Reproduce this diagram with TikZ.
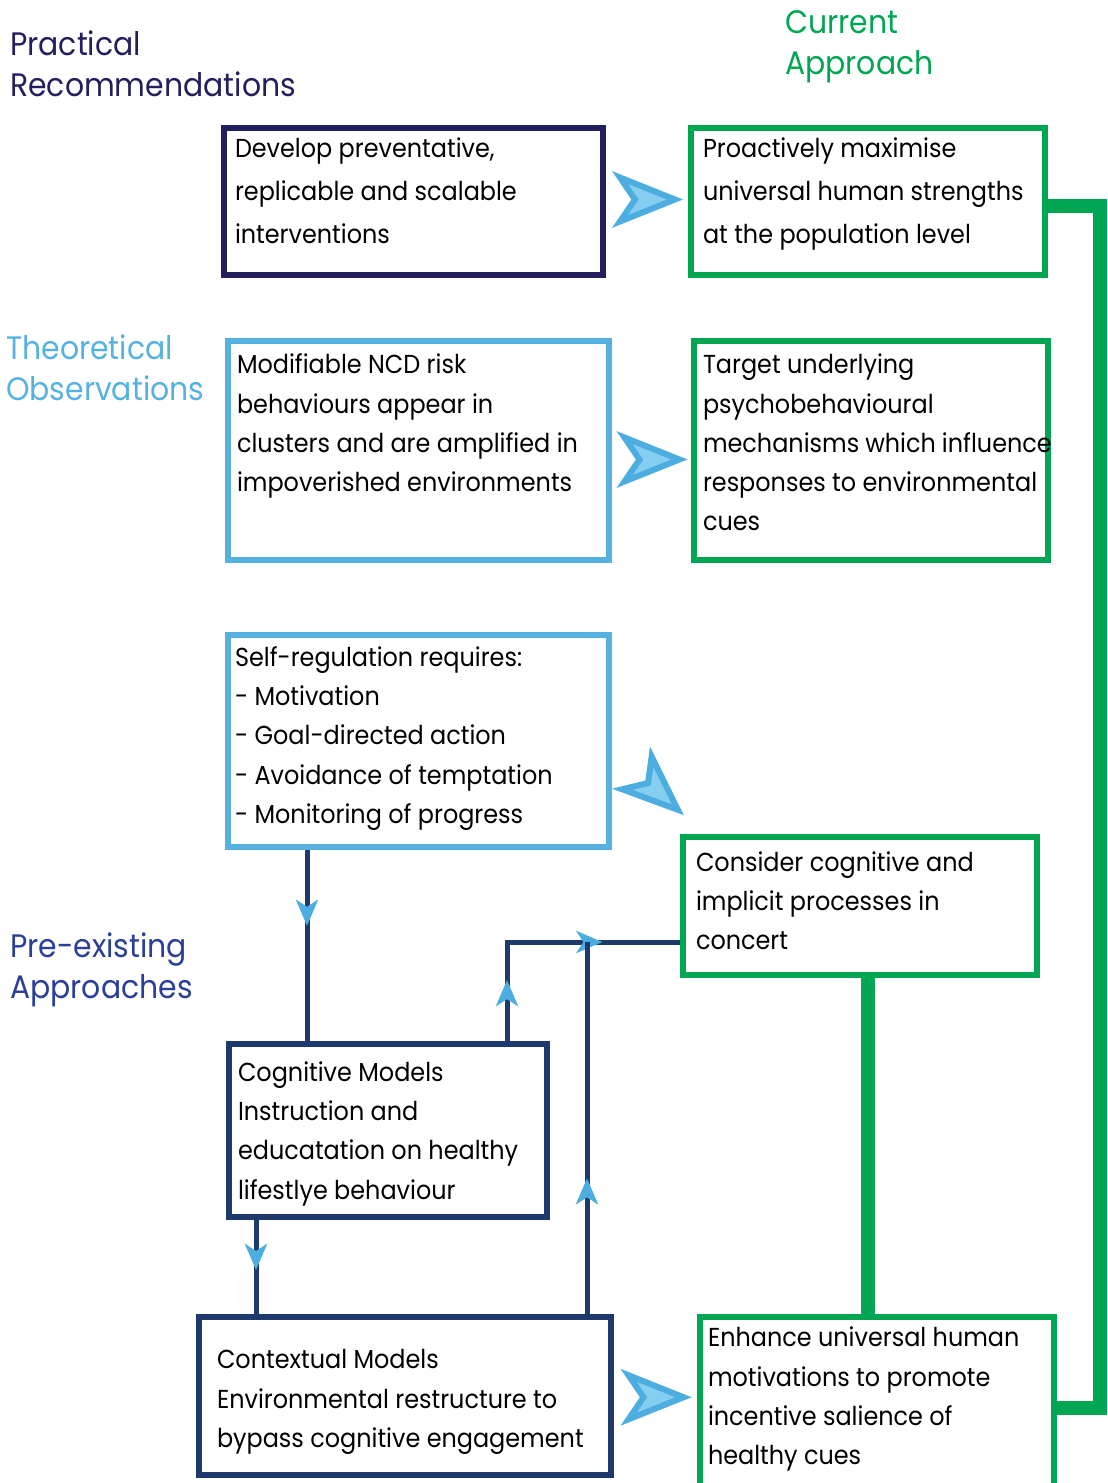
\documentclass[tikz,border=0pt]{standalone}
\usepackage{fontspec}
\setmainfont{Poppins}[FakeStretch=0.92]
\usetikzlibrary{arrows.meta,positioning,calc,decorations.markings,backgrounds}
\definecolor{RecNavy}{HTML}{231F5E}
\definecolor{ApproachGreen}{HTML}{00A651}
\definecolor{ObsBlue}{HTML}{55B2E0}
\definecolor{ModelBlue}{HTML}{1E3A6D}
\definecolor{PreBlue}{HTML}{2B3F98}
\definecolor{TipBlue}{HTML}{4CADE0}
\definecolor{TipFill}{HTML}{86CEF0}
\newcommand\cardbody[3]{\parbox[t][#2][t]{#1}{\raggedright\rightskip=0pt plus 1fil minus 80pt #3}}
\newcommand\cardfont{\fontsize{26}{39.3}\selectfont}
\newcommand\toprowfont{\fontsize{26}{43}\selectfont}
\newcommand\headfont{\fontsize{32.5}{41}\selectfont}

\begin{document}
\begin{tikzpicture}[x=1pt,y=-1pt,
  card/.style={draw,line width=6pt,anchor=north west,outer sep=0pt,font=\cardfont},
  heading/.style={anchor=north west,inner sep=0pt,align=left,font=\headfont},
  wire/.style={draw=ModelBlue,line width=5pt,line join=miter},
  rail/.style={draw=ApproachGreen,line width=14pt,line join=miter},
  tipat/.style={postaction={decorate,decoration={markings,
    mark=at position #1 with {\arrow[TipBlue]{Stealth[length=26pt,width=22pt,inset=7pt]}}}}},
  fatarrow/.pic={\filldraw[draw=TipBlue,fill=TipFill,line width=6pt,line join=miter]
    (-27,-22) -- (28,0) -- (-27,22) -- (-12,0) -- cycle;}]
  \useasboundingbox (0,0) rectangle (1108,1483);

  % column headings
  \node[heading,RecNavy] (hrec) at (10,31) {Practical\\Recommendations};
  \node[heading,ApproachGreen] (happ) at (785,10) {Current\\Approach};
  \node[heading,ObsBlue] (hobs) at (6,335) {Theoretical\\Observations};
  \node[heading,PreBlue] (hpre) at (10,933) {Pre-existing\\Approaches};

  % boxes
  \node[card,draw=RecNavy,font=\toprowfont,inner xsep=11pt,inner ysep=10pt] (dev) at (224,128)
    {\cardbody{357pt}{127pt}{Develop preventative,\\replicable and scalable\\interventions}};
  \node[card,draw=ApproachGreen,font=\toprowfont,inner xsep=12pt,inner ysep=10pt] (pro) at (691,128)
    {\cardbody{330pt}{127pt}{Proactively maximise\\universal human strengths\\at the population level}};
  \node[card,draw=ObsBlue,inner xsep=9pt,inner ysep=13pt] (ncd) at (228,341)
    {\cardbody{363pt}{193pt}{Modifiable NCD risk\\behaviours appear in\\clusters and are amplified in\\impoverished environments}};
  \node[card,draw=ApproachGreen,inner xsep=9pt,inner ysep=13pt] (tgt) at (694,341)
    {\cardbody{336pt}{193pt}{Target underlying\\psychobehavioural\\mechanisms which influence\\responses to environmental\\cues}};
  \node[card,draw=ObsBlue,inner xsep=7pt,inner ysep=11.5pt] (self) at (228,635)
    {\cardbody{367pt}{189pt}{Self-regulation requires:\\- Motivation\\- Goal-directed action\\- Avoidance of temptation\\- Monitoring of progress}};
  \node[card,draw=ApproachGreen,inner xsep=13pt,inner ysep=14.5pt] (cons) at (683,837)
    {\cardbody{328pt}{109pt}{Consider cognitive and\\implicit processes in\\concert}};
  \node[card,draw=ModelBlue,inner xsep=9pt,inner ysep=17.5pt] (cog) at (229,1044)
    {\cardbody{300pt}{138pt}{Cognitive Models\\Instruction and\\educatation on healthy\\lifestlye behaviour}};
  \node[card,draw=ModelBlue,inner xsep=18pt,inner ysep=32.5pt] (ctx) at (199,1317)
    {\cardbody{376pt}{93pt}{Contextual Models\\Environmental restructure to\\bypass cognitive engagement}};
  \node[card,draw=ApproachGreen,inner xsep=8pt,inner ysep=10pt] (enh) at (700,1317)
    {\cardbody{338pt}{155pt}{Enhance universal human\\motivations to promote\\incentive salience of\\healthy cues}};

  % big arrows between columns
  \pic at ($(dev.east)!0.5!(pro.west)+(0,-2)$) {fatarrow};
  \pic at ($(ncd.east)!0.5!(tgt.west)+(0,9)$) {fatarrow};
  \pic[rotate=-42] at (657,791) {fatarrow};
  \pic at ($(ctx.east)!0.5!(enh.west)+(0,-3)$) {fatarrow};

  % connectors
  \coordinate (selffoot) at ([xshift=79pt]self.south west);
  \coordinate (cogneck) at ([xshift=278pt]cog.north west);
  \coordinate (cogfoot) at ([xshift=27pt]cog.south west);
  \coordinate (ctxneck) at ([xshift=388pt]ctx.north west);
  \coordinate (consport) at ([yshift=33pt]cons.south west);
  \coordinate (consfoot) at ([xshift=185pt]cons.south west);
  \coordinate (proport) at ([yshift=-78pt]pro.north east);
  \coordinate (enhport) at ([yshift=-91pt]enh.north east);
  \coordinate (railx) at (1100,0);
  \begin{scope}[on background layer]
    \draw[wire,tipat=0.40] (selffoot) -- (selffoot |- cog.north);
    \draw[wire,tipat=0.23,tipat=0.71] (cogneck) |- (consport);
    \draw[wire,tipat=0.37] (ctxneck) -- (ctxneck |- consport);
    \draw[wire,tipat=0.53] (cogfoot) -- (cogfoot |- ctx.north);
    \draw[rail] (consfoot) -- (consfoot |- enh.north);
    \draw[rail] (proport) -- (proport -| railx) |- (enhport);
  \end{scope}
\end{tikzpicture}
\end{document}
